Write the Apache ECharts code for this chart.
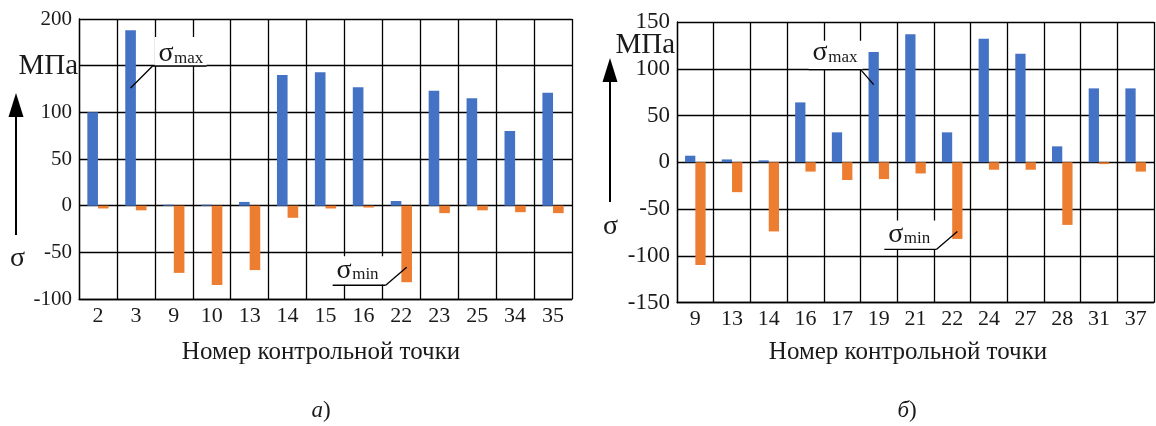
<!DOCTYPE html>
<html>
<head>
<meta charset="utf-8">
<script src="https://cdn.jsdelivr.net/npm/echarts@6/dist/echarts.min.js"></script>
<style>
html,body{margin:0;padding:0;background:#fff;}
#c{width:1156px;height:426px;}
</style>
</head>
<body>
<div id="c"></div>
<script>
// ---- data ----
const catsA = ['2','3','9','10','13','14','15','16','22','23','25','34','35'];
const maxA  = [100,188,1,1,4,140,143,127,5,123,115,80,121];
const minA  = [-3,-5,-72,-85,-69,-13,-3,-2,-82,-8,-5,-7,-8];

const catsB = ['9','13','14','16','17','19','21','22','24','27','28','31','37'];
const maxB  = [7,3,2,64,32,118,137,32,132,116,17,79,79];
const minB  = [-110,-32,-74,-10,-19,-18,-12,-82,-8,-8,-67,-2,-10];

const yTicksA = {min:-100, max:200, interval:50};
const yTicksB = {min:-150, max:150, interval:50};
const hiddenTickA = [150];   // tick label replaced by the unit in panel a)
const hiddenTickB = [];

const xName = 'Номер контрольной точки';
const unit = 'МПа';
const captions = ['а', 'б'];

// ---- chart ----
const FONT = "'Liberation Serif','Times New Roman',serif";
const BLUE = '#4472C4', ORANGE = '#ED7D31', INK = '#1a1a1a';
const chart = echarts.init(document.getElementById('c'), null, {renderer:'canvas'});

function xAxis(cats, gi){
  return {
    type:'category', data:cats, gridIndex:gi, boundaryGap:true,
    axisTick:{show:false},
    axisLine:{show:true, onZero:false, lineStyle:{color:'#000', width:1.3}},
    axisLabel:{interval:0, fontFamily:FONT, fontSize:22, color:INK, margin:6},
    splitLine:{show:true, interval:0, lineStyle:{color:'#000', width:1.3}}
  };
}
function yAxis(t, gi, fs, hidden){
  return {
    type:'value', gridIndex:gi, min:t.min, max:t.max, interval:t.interval,
    axisTick:{show:false},
    axisLine:{show:true, lineStyle:{color:'#000', width:1.3}},
    axisLabel:{fontFamily:FONT, fontSize:fs, color:INK, margin:7,
      formatter: v => hidden.indexOf(v) >= 0 ? '' : String(v)},
    splitLine:{show:true, lineStyle:{color:'#000', width:1.3}}
  };
}
function bars(data, color, gi){
  return {
    type:'bar', data:data, xAxisIndex:gi, yAxisIndex:gi,
    barWidth:'28%', barGap:'0%', itemStyle:{color:color},
    animation:false, silent:true
  };
}

const option = {
  animation:false,
  backgroundColor:'#fff',
  grid:[
    {left:79, top:19, width:493, height:280},
    {left:677, top:22, width:477, height:280.5}
  ],
  xAxis:[xAxis(catsA,0), xAxis(catsB,1)],
  yAxis:[yAxis(yTicksA,0,21,hiddenTickA), yAxis(yTicksB,1,23,hiddenTickB)],
  series:[
    bars(maxA, BLUE, 0), bars(minA, ORANGE, 0),
    bars(maxB, BLUE, 1), bars(minB, ORANGE, 1)
  ]
};
chart.setOption(option);

// ---- annotations ----
function txt(x, y, s, fs, align){
  return {type:'text', z:20, style:{
    x:x, y:y, text:s, font: fs + 'px ' + FONT,
    fill:INK, align:align||'center', verticalAlign:'middle'}};
}
const g = [];

// axis names and captions
g.push(txt(321, 352, xName, 25, 'center'));
g.push(txt(908, 352, xName, 25, 'center'));
g.push({type:'text', z:20, style:{x:321, y:411, text:'{i|'+captions[0]+'})',
  rich:{i:{font:'italic 23px '+FONT, fill:INK}}, font:'23px '+FONT, fill:INK, align:'center', verticalAlign:'middle'}});
g.push({type:'text', z:20, style:{x:907, y:411, text:'{i|'+captions[1]+'})',
  rich:{i:{font:'italic 23px '+FONT, fill:INK}}, font:'23px '+FONT, fill:INK, align:'center', verticalAlign:'middle'}});

// unit labels and sigma arrows
g.push(txt(78, 66, unit, 29, 'right'));
g.push(txt(675, 45, unit, 29, 'right'));
function arrow(x, yTip, yBot){
  g.push({type:'line', z:20, shape:{x1:x, y1:yBot, x2:x, y2:yTip+20}, style:{stroke:'#000', lineWidth:2}});
  g.push({type:'polygon', z:20, shape:{points:[[x,yTip],[x-7.5,yTip+24],[x+7.5,yTip+24]]}, style:{fill:'#000'}});
}
arrow(16, 93, 235);
arrow(610, 58, 202);
g.push(txt(17.5, 259, 'σ', 28, 'center'));
g.push(txt(610.5, 227, 'σ', 28, 'center'));

// callouts anchored to bars via the axes
const callouts = [
  {gi:0, cat:'3',  val:126, side:-1, qdx:22,  qdy:-22, bx0:2,   bw:52, gap:3, sub:'max'},
  {gi:1, cat:'19', val:83,  side:-1, qdx:-13, qdy:-15, bx0:-52, bw:54, gap:8, sub:'max'},
  {gi:0, cat:'22', val:-66, side:1,  qdx:-21, qdy:18,  bx0:-53, bw:53, gap:6, sub:'min'},
  {gi:1, cat:'22', val:-74, side:1,  qdx:-21, qdy:18,  bx0:-52, bw:52, gap:6, sub:'min'}
];
const gridW = [493, 477];
callouts.forEach(c => {
  const p = chart.convertToPixel({xAxisIndex:c.gi, yAxisIndex:c.gi}, [c.cat, c.val]);
  const bw = gridW[c.gi]/13*0.28;
  const px = p[0] + c.side*bw/2, py = p[1];
  const qx = px + c.qdx, qy = py + c.qdy;
  const bx = qx + c.bx0;
  g.push({type:'rect', z:15, shape:{x:bx, y:qy-29, width:c.bw, height:28.5}, style:{fill:'#fff'}});
  const ux0 = c.bx0 >= 0 ? qx : qx + c.bx0;
  const ux1 = c.bx0 >= 0 ? qx + c.bw + c.bx0 : qx;
  g.push({type:'line', z:21, shape:{x1:ux0, y1:qy, x2:ux1, y2:qy}, style:{stroke:'#000', lineWidth:1.3}});
  g.push({type:'line', z:21, shape:{x1:qx, y1:qy, x2:px, y2:py}, style:{stroke:'#000', lineWidth:1.3}});
  const base = qy - c.gap;
  g.push(txt(bx + 11.5, base - 0.32*28, 'σ', 28, 'center'));
  g.push(txt(bx + 19.5, base + 1 - 0.32*17, c.sub, 17, 'left'));
});
chart.setOption({graphic:g});
</script>
</body>
</html>
